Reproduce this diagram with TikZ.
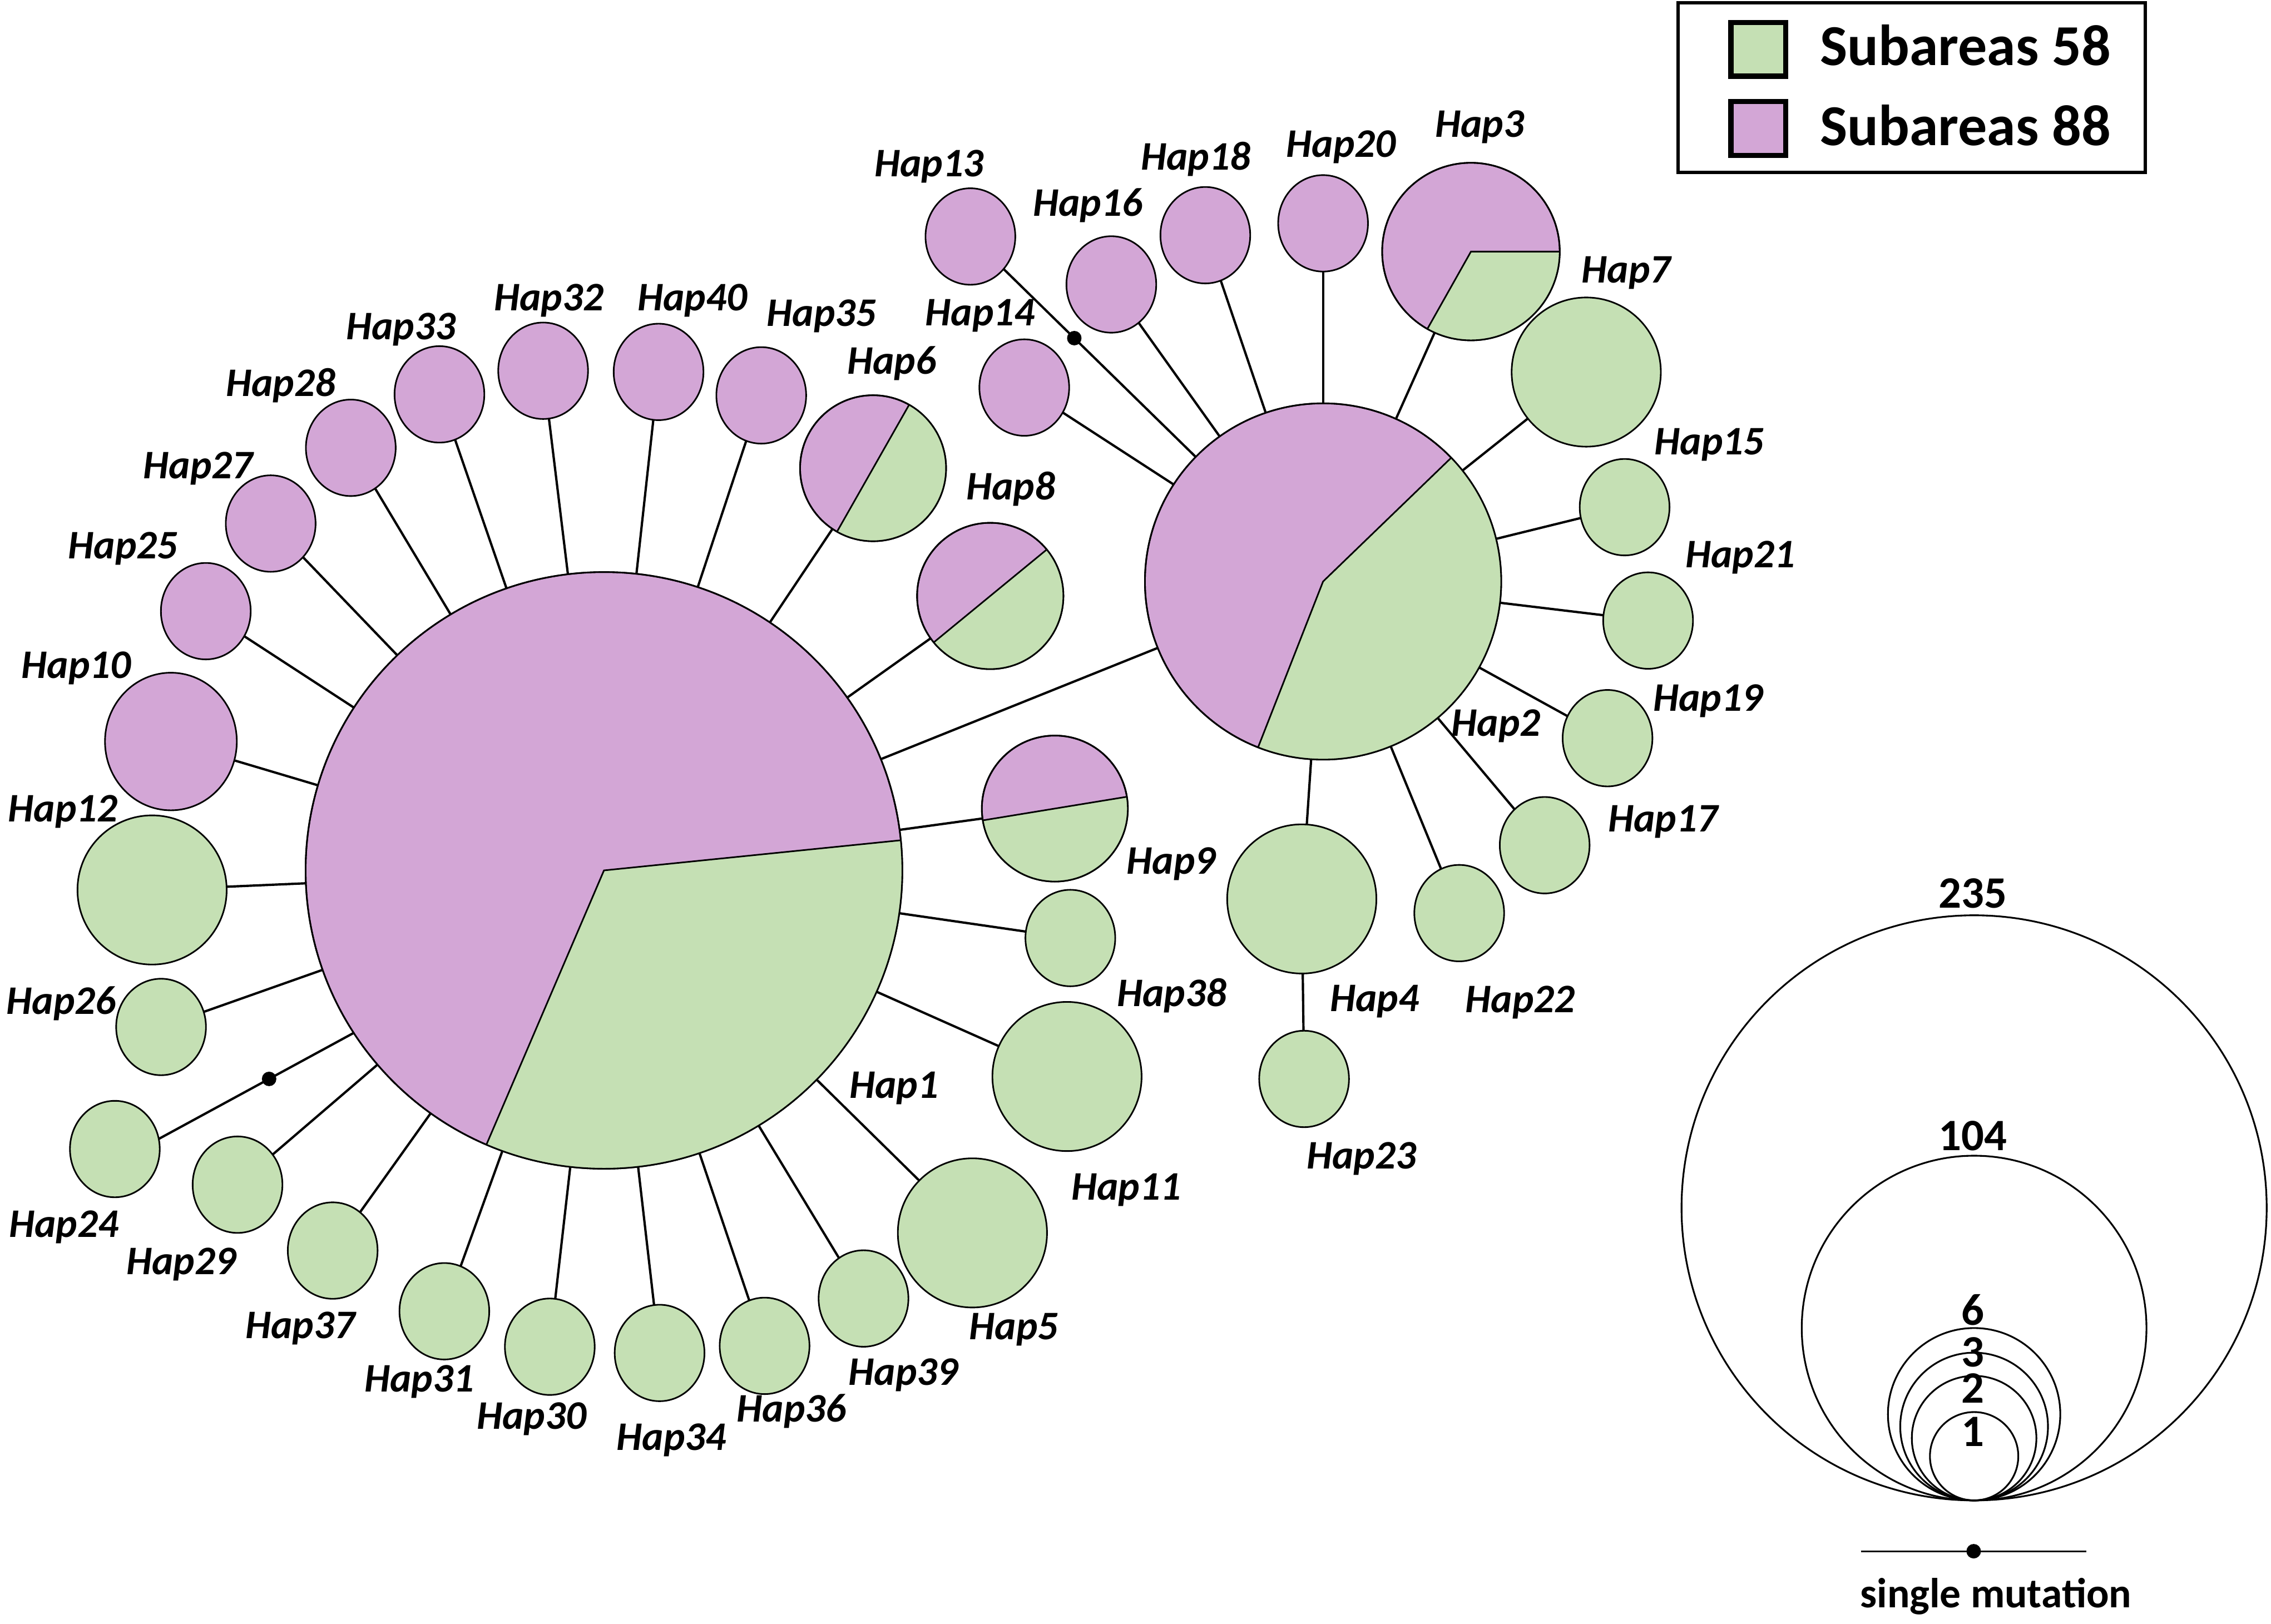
\documentclass[tikz,border=0pt]{standalone}
\usepackage{fontspec}
\setmainfont{Carlito}
\usetikzlibrary{shapes.geometric}
\definecolor{gr}{RGB}{197,224,180}
\definecolor{pu}{RGB}{211,166,214}
\newcommand\hapfont{\fontsize{14pt}{14pt}\selectfont\bfseries\itshape}
\newcommand\lgfont{\fontsize{20pt}{20pt}\selectfont\bfseries}
\newcommand\szfont{\fontsize{15.5pt}{15.5pt}\selectfont\bfseries}
\newcommand\smfont{\fontsize{14.5pt}{14.5pt}\selectfont\bfseries}
\tikzset{
  edge/.style={line width=0.55pt},
  hapbase/.style={draw=black, line width=0.55pt, inner sep=0pt, outer sep=0pt},
  smallg/.style={hapbase, ellipse, fill=gr, minimum width=31pt, minimum height=33.3pt},
  smallp/.style={hapbase, ellipse, fill=pu, minimum width=31pt, minimum height=33.3pt},
  midg/.style={hapbase, circle, fill=gr, minimum size=51.5pt},
  pienode/.style={hapbase, circle, fill=pu},
  lab/.style={font=\hapfont, anchor=base, inner sep=0pt},
  conn/.style={line width=0.8pt},
  mutdot/.style={circle, fill=black, inner sep=0pt, minimum size=5pt},
  sizec/.style={draw=black, circle, line width=0.6pt, inner sep=0pt},
  sizelab/.style={font=\szfont, anchor=base, inner sep=0pt},
}
\newcommand\gwedge[4]{%
  \begin{scope}
    \clip (#1.center) circle[radius=#2];
    \fill[gr] (#1.center) -- ([shift={(#3:{3*#2})}]#1.center)
      -- ([shift={({#3+(#4-#3)*0.25}:{3*#2})}]#1.center)
      -- ([shift={({#3+(#4-#3)*0.5}:{3*#2})}]#1.center)
      -- ([shift={({#3+(#4-#3)*0.75}:{3*#2})}]#1.center)
      -- ([shift={(#4:{3*#2})}]#1.center) -- cycle;
  \end{scope}
  \draw[edge] ([shift={(#3:#2)}]#1.center) -- (#1.center) -- ([shift={(#4:#2)}]#1.center);
  \draw[edge] (#1.center) circle[radius=#2];
}
\begin{document}
\begin{tikzpicture}[x=0.5pt,y=-0.5pt]
\useasboundingbox (0,0) rectangle (1568,1121);
\fill[white] (0,0) rectangle (1568,1121);

% ---- pie nodes
\node[pienode, minimum size=206pt] (h1) at (417,601) {};
\node[pienode, minimum size=123pt] (h2) at (913.5,401.5) {};
\node[pienode, minimum size=61.3pt] (h3) at (1015.6,173.7) {};
\node[pienode, minimum size=50.4pt] (h6) at (602.8,323.3) {};
\node[pienode, minimum size=50.5pt] (h8) at (683.7,411.5) {};
\node[pienode, minimum size=50.4pt] (h9) at (728.3,558.3) {};
\gwedge{h1}{103pt}{246.8}{365.8}
\gwedge{h2}{61.5pt}{248.6}{404}
\gwedge{h3}{30.65pt}{240.6}{360}
\gwedge{h6}{25.2pt}{240.4}{420.4}
\gwedge{h8}{25.25pt}{219.4}{399.4}
\gwedge{h9}{25.2pt}{189.3}{369.3}

% ---- purple single nodes
\node[smallp] (h13) at (670,163.3) {};
\node[smallp] (h16) at (767.3,196.4) {};
\node[smallp] (h18) at (832.2,162.4) {};
\node[smallp] (h20) at (913.5,154.2) {};
\node[smallp] (h14) at (707.2,267.6) {};
\node[smallp] (h35) at (525.6,273) {};
\node[smallp] (h40) at (454.7,256.8) {};
\node[smallp] (h32) at (375,256) {};
\node[smallp] (h33) at (303.4,272.3) {};
\node[smallp] (h28) at (242.2,309.2) {};
\node[smallp] (h27) at (186.9,361.5) {};
\node[smallp] (h25) at (142.1,422) {};
\node[hapbase, ellipse, fill=pu, minimum width=45.5pt, minimum height=47.5pt] (h10) at (118,512) {};

% ---- green nodes
\node[midg] (h7) at (1095.2,256.9) {};
\node[midg] (h4) at (898.8,620.7) {};
\node[midg] (h11) at (736.7,743.3) {};
\node[midg] (h5) at (671.4,851.3) {};
\node[midg] (h12) at (105,614.5) {};
\node[smallg] (h15) at (1121.7,350.2) {};
\node[smallg] (h21) at (1137.9,428.5) {};
\node[smallg] (h19) at (1109.9,509.7) {};
\node[smallg] (h17) at (1066.5,583.6) {};
\node[smallg] (h22) at (1007.5,630.5) {};
\node[smallg] (h23) at (900.4,745) {};
\node[smallg] (h38) at (739,647.7) {};
\node[smallg] (h39) at (596.2,896.6) {};
\node[smallg] (h36) at (527.9,929.3) {};
\node[smallg] (h34) at (455.4,934.2) {};
\node[smallg] (h30) at (379.6,929.9) {};
\node[smallg] (h31) at (306.8,905.4) {};
\node[smallg] (h37) at (229.7,863.5) {};
\node[smallg] (h29) at (164,818) {};
\node[smallg] (h24) at (79.3,793.4) {};
\node[smallg] (h26) at (111.2,709.1) {};

% ---- connectors
\foreach \n in {h2,h6,h8,h9,h38,h11,h5,h39,h36,h34,h30,h31,h37,h29,h26,h12,h10,h25,h27,h28,h33,h32,h40,h35}
  \draw[conn] (h1) -- (\n);
\draw[conn] (h24.13) -- node[mutdot, pos=0.566] (m24) {} (h1.213);
\foreach \n in {h14,h16,h18,h20,h3,h7,h15,h21,h19,h17,h22,h4}
  \draw[conn] (h2) -- (\n);
\draw[conn] (h13) -- node[mutdot, pos=0.368] (m13) {} (h2);
\draw[conn] (h4) -- (h23);

% ---- labels
\node[lab] (t13) at (641.5,121.8) {Hap13};
\node[lab] (t18) at (825.5,117.4) {Hap18};
\node[lab] (t20) at (926,108.5) {Hap20};
\node[lab] (t3) at (1021.5,94.6) {Hap3};
\node[lab] (t16) at (751,149) {Hap16};
\node[lab] (t14) at (676.7,224.7) {Hap14};
\node[lab] (t6) at (615.6,258.4) {Hap6};
\node[lab] (t35) at (567.3,225.3) {Hap35};
\node[lab] (t40) at (478,214.3) {Hap40};
\node[lab] (t32) at (379,214.3) {Hap32};
\node[lab] (t33) at (276.7,234.6) {Hap33};
\node[lab] (t28) at (193.9,273.8) {Hap28};
\node[lab] (t27) at (136.7,330.4) {Hap27};
\node[lab] (t25) at (84.9,385.8) {Hap25};
\node[lab] (t10) at (52.6,468.3) {Hap10};
\node[lab] (t12) at (43.4,567.2) {Hap12};
\node[lab] (t26) at (42.3,700.1) {Hap26};
\node[lab] (t24) at (44,854.2) {Hap24};
\node[lab] (t29) at (125,879.9) {Hap29};
\node[lab] (t37) at (207.2,924) {Hap37};
\node[lab] (t31) at (289.4,961.2) {Hap31};
\node[lab] (t30) at (367,986.7) {Hap30};
\node[lab] (t34) at (463.6,1001.4) {Hap34};
\node[lab] (t36) at (546.6,981.8) {Hap36};
\node[lab] (t39) at (623.8,956.3) {Hap39};
\node[lab] (t5) at (700,925) {Hap5};
\node[lab] (t11) at (777.5,828.5) {Hap11};
\node[lab] (t1) at (617.2,758.4) {Hap1};
\node[lab] (t38) at (809,695) {Hap38};
\node[lab] (t9) at (808.6,603.6) {Hap9};
\node[lab] (t8) at (697.9,344.9) {Hap8};
\node[lab] (t7) at (1122.7,195.3) {Hap7};
\node[lab] (t15) at (1180.2,314) {Hap15};
\node[lab] (t21) at (1201.5,391.9) {Hap21};
\node[lab] (t19) at (1179.2,491) {Hap19};
\node[lab] (t17) at (1148.2,574.3) {Hap17};
\node[lab] (t2) at (1033,508.4) {Hap2};
\node[lab] (t22) at (1049.6,699.2) {Hap22};
\node[lab] (t4) at (949,698.4) {Hap4};
\node[lab] (t23) at (940,807) {Hap23};

% ---- colour legend
\node[draw=black, line width=1.1pt, inner sep=0pt, minimum width=161.3pt, minimum height=58.5pt] (legend) at (1320,60.5) {};
\node[draw=black, line width=1.75pt, fill=gr, inner sep=0pt, minimum width=18.9pt, minimum height=18.6pt] (sq58) at (1214,34) {};
\node[draw=black, line width=1.75pt, fill=pu, inner sep=0pt, minimum width=18.9pt, minimum height=18.6pt] (sq88) at (1214,88.7) {};
\node[font=\lgfont, anchor=base west, inner sep=0pt] (l58) at (1256.2,45.1) {Subareas 58};
\node[font=\lgfont, anchor=base west, inner sep=0pt] (l88) at (1256.2,100.5) {Subareas 88};

% ---- size legend
\node[sizec, minimum size=202pt] (s235) at (1363,834) {};
\node[sizec, minimum size=119pt] (s104) at (1363,917) {};
\node[sizec, minimum size=59.5pt] (s6) at (1363,976.5) {};
\node[sizec, minimum size=51pt] (s3) at (1363,985) {};
\node[sizec, minimum size=43pt] (s2) at (1363,993) {};
\node[sizec, minimum size=30.5pt] (s1) at (1363,1005.5) {};
\node[sizelab] (n235) at (1362,627.1) {235};
\node[sizelab] (n104) at (1362,794.3) {104};
\node[sizelab] (n6) at (1362,914.9) {6};
\node[sizelab] (n3) at (1362,943.8) {3};
\node[sizelab] (n2) at (1362,968.7) {2};
\node[sizelab] (n1) at (1362,998.6) {1};

\coordinate (sm1) at (1284.8,1071.1);
\coordinate (sm2) at (1440.6,1071.1);
\draw[line width=0.6pt] (sm1) -- node[mutdot] (smd) {} (sm2);
\node[font=\smfont, anchor=base, inner sep=0pt] (smt) at (1378,1110) {single mutation};
\end{tikzpicture}
\end{document}
